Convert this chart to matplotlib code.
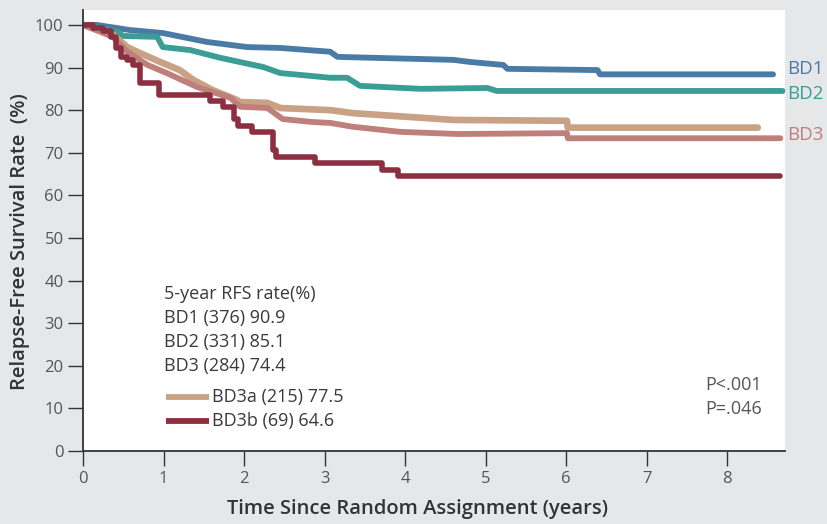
import matplotlib
matplotlib.use("Agg")
from matplotlib import pyplot as plt

# Kaplan-Meier curves (years, % relapse-free)
bd1_t = [0, 0.17, 0.58, 0.99, 1.54, 2.04, 2.45, 3.07, 3.16, 4.60, 4.81, 5.22, 5.27, 6.39, 6.42, 8.57]
bd1_s = [100, 100, 98.8, 98.1, 96.0, 94.8, 94.6, 93.7, 92.5, 91.8, 91.3, 90.6, 89.7, 89.4, 88.4, 88.4]

bd2_t = [0, 0.21, 0.42, 0.50, 0.92, 0.99, 1.33, 1.70, 2.24, 2.45, 3.07, 3.28, 3.44, 4.19, 5.02, 5.14, 8.69]
bd2_s = [100, 99.3, 98.4, 97.4, 97.2, 94.8, 94.1, 92.3, 90.1, 88.7, 87.6, 87.6, 85.7, 85.0, 85.2, 84.5, 84.5]

bd3a_t = [0, 0.37, 0.55, 0.67, 0.96, 1.20, 1.37, 1.61, 1.91, 1.95, 2.29, 2.45, 3.07, 3.35, 4.60, 6.01, 6.02, 8.38]
bd3a_s = [100, 97.7, 94.8, 93.7, 91.3, 89.4, 87.1, 84.7, 82.4, 81.9, 81.7, 80.5, 80.0, 79.3, 77.7, 77.5, 75.9, 75.9]

bd3_t = [0, 0.37, 0.55, 0.80, 1.04, 1.42, 1.83, 1.95, 2.29, 2.48, 2.86, 3.07, 3.35, 3.94, 4.65, 6.01, 6.02, 8.66]
bd3_s = [100, 97.2, 93.7, 90.6, 88.7, 85.4, 82.9, 80.8, 80.5, 77.9, 77.2, 77.0, 76.1, 74.9, 74.4, 74.6, 73.4, 73.4]

bd3b_t = [0, 0.12, 0.25, 0.35, 0.41, 0.47, 0.55, 0.62, 0.71, 0.94, 1.58, 1.74, 1.88, 1.93,
          2.10, 2.36, 2.40, 2.88, 3.71, 3.91, 8.66]
bd3b_s = [100, 99.3, 98.5, 97.2, 94.6, 92.5, 91.8, 90.6, 86.4, 83.5, 82.2, 80.8, 78.0, 76.3,
          74.9, 70.7, 69.0, 67.6, 66.0, 64.6, 64.6]

summary_lines = ["5-year RFS rate(%)", "BD1 (376) 90.9", "BD2 (331) 85.1", "BD3 (284) 74.4"]
sub_labels = ["BD3a (215) 77.5", "BD3b (69) 64.6"]
p_values = ["P<.001", "P=.046"]

c_bd1 = "#4a7ba4"
c_bd2 = "#3a9e94"
c_bd3a = "#c9a285"
c_bd3 = "#bf7f7b"
c_bd3b = "#8c2f41"

plt.rcParams['font.family'] = ['Open Sans', 'DejaVu Sans']

fig = plt.figure(figsize=(8.27, 5.24), dpi=100, facecolor="#e6e7e9")
ax = fig.add_axes([0.1004, 0.1393, 0.849, 0.8416])
ax.set_facecolor("white")

ax.plot(bd1_t, bd1_s, color=c_bd1, lw=4.2, solid_capstyle="round")
ax.plot(bd2_t, bd2_s, color=c_bd2, lw=4.2, solid_capstyle="round")
ax.plot(bd3a_t, bd3a_s, color=c_bd3a, lw=4.8, solid_capstyle="round")
ax.plot(bd3_t, bd3_s, color=c_bd3, lw=4.2, solid_capstyle="round")
ax.plot(bd3b_t, bd3b_s, color=c_bd3b, lw=4.0, drawstyle="steps-post", solid_capstyle="round")

ax.set_xlim(0, 8.72)
ax.set_ylim(0, 103.5)
ax.set_xticks(range(0, 9))
ax.set_yticks(range(0, 101, 10))

for side in ["top", "right"]:
    ax.spines[side].set_visible(False)
for side in ["left", "bottom"]:
    ax.spines[side].set_color("#333333")
    ax.spines[side].set_linewidth(1.3)

ax.tick_params(axis="both", direction="out", length=10.5, width=1.0, color="#333333",
               labelsize=12, labelcolor="#555555")
ax.tick_params(axis="y", pad=3.5)
ax.tick_params(axis="x", pad=4)

ax.set_xlabel("Time Since Random Assignment (years)", fontsize=14.5, fontweight="semibold",
              color="#333333")
ax.set_ylabel("Relapse-Free Survival Rate  (%)", fontsize=14.5, fontweight="semibold",
              color="#333333")
# labels sit a little off-centre in the original
ax.xaxis.set_label_coords(0.476, -0.108)
ax.yaxis.set_label_coords(-0.076, 0.475)

# summary block
for i, line in enumerate(summary_lines):
    ax.text(1.0, 36.9 - i * 5.63, line, fontsize=13, color="#3a3a3a", va="center", ha="left")

sub_colors = [c_bd3a, c_bd3b]
for i, (lab, col) in enumerate(zip(sub_labels, sub_colors)):
    yv = 12.65 - i * 5.63
    ax.plot([1.03, 1.56], [yv, yv], color=col, lw=4.2, solid_capstyle="butt")
    ax.text(1.6, yv, lab, fontsize=13, color="#3a3a3a", va="center", ha="left")

for i, p in enumerate(p_values):
    ax.text(7.73, 15.6 - i * 5.63, p, fontsize=13, color="#555555", va="center", ha="left")

# group labels right of the plot
ax.text(8.75, bd1_s[-1] + 1.2, "BD1", fontsize=13.5, color=c_bd1, va="center", ha="left", clip_on=False)
ax.text(8.75, bd2_s[-1] - 0.6, "BD2", fontsize=13.5, color=c_bd2, va="center", ha="left", clip_on=False)
ax.text(8.75, bd3_s[-1] + 0.7, "BD3", fontsize=13.5, color=c_bd3, va="center", ha="left", clip_on=False)

fig.savefig("out.png", dpi=100, facecolor=fig.get_facecolor())
